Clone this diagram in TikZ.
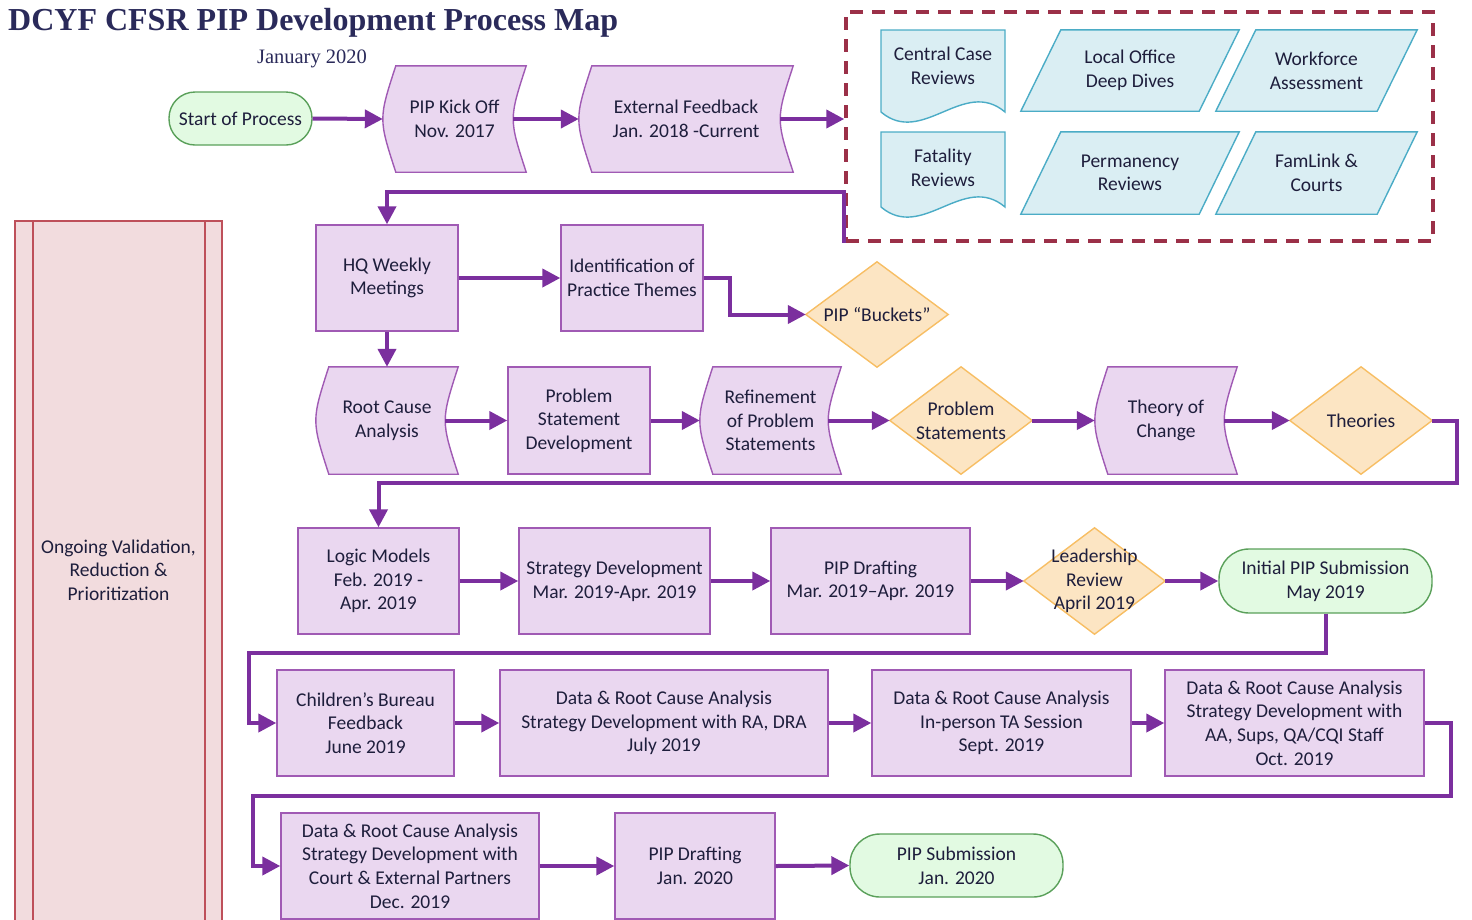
\documentclass[tikz,border=0pt]{standalone}
\usepackage{fontspec}
\setmainfont{Carlito}
\newfontfamily\titlefont{Liberation Serif}
\usetikzlibrary{arrows.meta,calc}
\pgfdeclarelayer{background}
\pgfsetlayers{background,main}
\definecolor{arrc}{HTML}{7B2F9E}
\definecolor{txtc}{HTML}{1E1E3C}
\definecolor{titc}{HTML}{2A2A5A}
\definecolor{procf}{HTML}{EAD7F0}
\definecolor{procd}{HTML}{A05AB4}
\definecolor{termf}{HTML}{E2FAE2}
\definecolor{termd}{HTML}{5AA05A}
\definecolor{decf}{HTML}{FCE5C3}
\definecolor{decd}{HTML}{F7BE64}
\definecolor{datf}{HTML}{DAEEF3}
\definecolor{datd}{HTML}{4BACC6}
\definecolor{pinkf}{HTML}{F2DCDE}
\definecolor{pinkd}{HTML}{BE505A}
\definecolor{dashc}{HTML}{9B3048}
\newcommand\sdshape[1]{\filldraw[procsh] ([xshift=13pt]#1.north west) -- (#1.north east) .. controls ([xshift=-17.3pt]#1.east) .. (#1.south east) -- ([xshift=13pt]#1.south west) .. controls ([xshift=-4.3pt]#1.west) .. cycle;}
\newcommand\dmshape[1]{\filldraw[decsh] (#1.north) -- (#1.east) -- (#1.south) -- (#1.west) -- cycle;}
\newcommand\plshape[1]{\filldraw[datsh] ([xshift=40pt]#1.north west) -- (#1.north east) -- ([xshift=-40pt]#1.south east) -- (#1.south west) -- cycle;}
\begin{document}
\begin{tikzpicture}[x=1pt,y=-1pt,
  txt/.style={font=\fontsize{19.5}{23.6}\selectfont, text=txtc, align=center, inner sep=0pt},
  sz/.style 2 args={minimum width=#1pt, minimum height=#2pt},
  proc/.style={txt, draw=procd, fill=procf, line width=1.4pt},
  plain/.style={txt},
  term/.style={txt, draw=termd, fill=termf, line width=1.4pt, rounded corners=26pt},
  procsh/.style={draw=procd, fill=procf, line width=1.4pt},
  decsh/.style={draw=decd, fill=decf, line width=1.4pt},
  datsh/.style={draw=datd, fill=datf, line width=1.4pt},
  arr/.style={draw=arrc, line width=4pt, -{Triangle[length=18pt,width=18pt]}},
  ]
\useasboundingbox (0,0) rectangle (1472,919);

% title
\node[anchor=base west, inner sep=0pt, font=\titlefont\bfseries\fontsize{32}{32}\selectfont, text=titc] (title) at (8,30) {DCYF CFSR PIP Development Process Map};
\node[anchor=base, inner sep=0pt, font=\titlefont\fontsize{20.5}{20.5}\selectfont, text=titc] (date) at (312,63) {January 2020};

% row 1
\node[term, sz={143}{53}] (start) at (240.5,118.5) {Start of Process};
\node[plain, sz={143}{106}] (kick) at (454.5,119) {PIP Kick Off\\Nov. 2017};
\node[plain, sz={214}{106}] (ext) at (686,119) {External Feedback\\Jan. 2018 -Current};
\node[draw=dashc, dash pattern=on 13pt off 9pt, line width=3.5pt, sz={587}{229}] (grp) at (1139.5,126.5) {};

% group contents
\node[plain] (ccr) at (943,66) {Central Case\\Reviews};
\node[plain] (fat) at (943,168) {Fatality\\Reviews};
\node[plain, sz={218}{81}] (local) at (1130,70.5) {Local Office\\Deep Dives};
\node[plain, sz={201}{81}] (work) at (1316.5,70.5) {Workforce\\Assessment};
\node[plain, sz={218}{82}] (perm) at (1130,173) {Permanency\\Reviews};
\node[plain, sz={201}{82}] (fam) at (1316.5,173) {FamLink \&\\Courts};

% left box
\node[plain] (ongo) at (118.5,570) {Ongoing Validation,\\Reduction \&\\Prioritization};

% row 2
\node[proc, sz={142}{106}] (hq) at (387,278) {HQ Weekly\\Meetings};
\node[proc, sz={142}{106}] (ident) at (632,278) {Identification of\\Practice Themes};
\node[plain, sz={142}{105}] (buck) at (877,314.5) {PIP “Buckets”};

% row 3
\node[plain, sz={142}{107}] (root) at (387,420.5) {Root Cause\\Analysis};
\node[proc, sz={142}{107}] (psd) at (579,420.5) {Problem\\Statement\\Development};
\node[plain, sz={141}{107}] (refn) at (770.5,420.5) {Refinement\\of Problem\\Statements};
\node[plain, sz={142}{107}] (ps) at (961,420.5) {Problem\\Statements};
\node[plain, sz={142}{107}] (toc) at (1166,420.5) {Theory of\\Change};
\node[plain, sz={142}{107}] (theo) at (1361,420.5) {Theories};

% row 4
\node[proc, sz={161}{106}] (logic) at (378.5,581) {Logic Models\\Feb. 2019 -\\Apr. 2019};
\node[proc, sz={191}{106}] (strat) at (614.5,581) {Strategy Development\\Mar. 2019-Apr. 2019};
\node[proc, sz={199}{106}] (draft) at (870.5,581) {PIP Drafting\\Mar. 2019–Apr. 2019};
\node[plain, sz={141}{106}] (lead) at (1094.5,581) {Leadership\\Review\\April 2019};
\node[term, sz={213}{64}, rounded corners=30pt] (init) at (1325.5,581) {Initial PIP Submission\\May 2019};

% row 5
\node[proc, sz={177}{106}] (cb) at (365.5,723) {Children’s Bureau\\Feedback\\June 2019};
\node[proc, sz={328}{106}] (d1) at (664,723) {Data \& Root Cause Analysis\\Strategy Development with RA, DRA\\July 2019};
\node[proc, sz={259}{106}] (d2) at (1001.5,723) {Data \& Root Cause Analysis\\In-person TA Session\\Sept. 2019};
\node[proc, sz={259}{106}] (d3) at (1294.5,723) {Data \& Root Cause Analysis\\Strategy Development with\\AA, Sups, QA/CQI Staff\\Oct. 2019};

% row 6
\node[proc, sz={258}{106}] (d4) at (410,866) {Data \& Root Cause Analysis\\Strategy Development with\\Court \& External Partners\\Dec. 2019};
\node[proc, sz={160}{106}] (draft2) at (695,866) {PIP Drafting\\Jan. 2020};
\node[term, sz={213}{63}, rounded corners=30pt] (sub) at (956.5,865.5) {PIP Submission\\Jan. 2020};

% background shapes
\begin{pgfonlayer}{background}
  \sdshape{kick}
  \sdshape{ext}
  \sdshape{root}
  \sdshape{refn}
  \sdshape{toc}
  \dmshape{buck}
  \dmshape{ps}
  \dmshape{theo}
  \dmshape{lead}
  \plshape{local}
  \plshape{work}
  \plshape{perm}
  \plshape{fam}
  \filldraw[datsh] (881,30) -- (1005,30) -- (1005,112) .. controls (963.7,77) and (922.3,147) .. (881,112) -- cycle;
  \filldraw[datsh] (881,132) -- (1005,132) -- (1005,207) .. controls (963.7,172) and (922.3,242) .. (881,207) -- cycle;
  \filldraw[draw=pinkd, fill=pinkf, line width=1.4pt] (15,221) rectangle (222,940);
  \draw[draw=pinkd, line width=1.4pt] (33,221) -- (33,940) (205,221) -- (205,940);
\end{pgfonlayer}

% connectors
\draw[arr] (start.east) -- (kick.west);
\draw[arr] ([xshift=-13pt]kick.east) -- (ext.west);
\draw[arr] ([xshift=-13pt]ext.east) -- (ext.east -| grp.west);
\draw[arr] (grp.south west) |- ([yshift=32pt]hq.north) -- (hq.north);
\draw[arr] (hq.east) -- (ident.west);
\draw[arr] (ident.east) -- ++(26,0) |- (buck.west);
\draw[arr] (hq.south) -- (root.north);
\draw[arr] ([xshift=-13pt]root.east) -- (psd.west);
\draw[arr] (psd.east) -- (refn.west);
\draw[arr] ([xshift=-13pt]refn.east) -- (ps.west);
\draw[arr] (ps.east) -- (toc.west);
\draw[arr] ([xshift=-13pt]toc.east) -- (theo.west);
\draw[arr] (theo.east) -- ++(25,0) |- ([yshift=44pt]logic.north) -- (logic.north);
\draw[arr] (logic.east) -- (strat.west);
\draw[arr] (strat.east) -- (draft.west);
\draw[arr] (draft.east) -- (lead.west);
\draw[arr] (lead.east) -- (init.west);
\draw[arr] (init.south) |- ([xshift=-27pt,yshift=70pt]cb.west) |- (cb.west);
\draw[arr] (cb.east) -- (d1.west);
\draw[arr] (d1.east) -- (d2.west);
\draw[arr] (d2.east) -- (d3.west);
\draw[arr] (d3.east) -- ++(26,0) |- ([xshift=-27pt,yshift=70pt]d4.west) |- (d4.west);
\draw[arr] (d4.east) -- (draft2.west);
\draw[arr] (draft2.east) -- (sub.west);
\end{tikzpicture}
\end{document}
